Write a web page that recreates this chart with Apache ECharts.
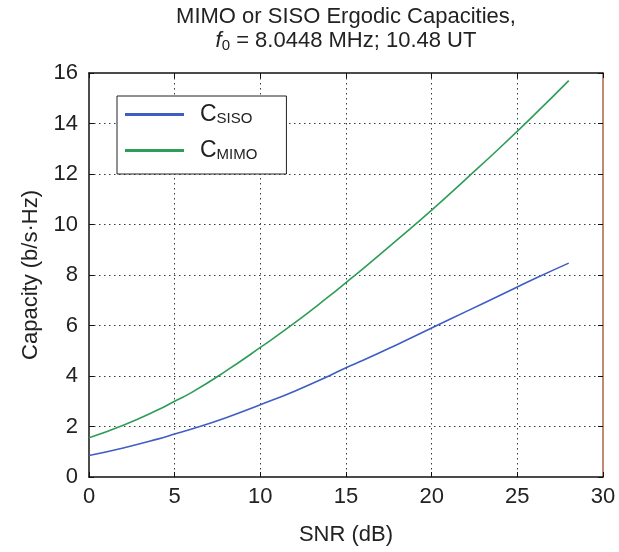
<!DOCTYPE html>
<html>
<head>
<meta charset="utf-8">
<script src="https://cdn.jsdelivr.net/npm/echarts@6/dist/echarts.min.js"></script>
<style>
  html, body { margin: 0; padding: 0; background: #fff; }
  #app { width: 619px; height: 552px; }
</style>
</head>
<body>
<div id="app"></div>
<script>
const snr = [0, 2, 4, 5, 6, 8, 10, 12, 14, 15, 16, 18, 20, 22, 24, 26, 28];
const cSiso = [0.85, 1.15, 1.5, 1.7, 1.9, 2.35, 2.86, 3.4, 4.0, 4.33, 4.62, 5.25, 5.9, 6.55, 7.2, 7.85, 8.47];
const cMimo = [1.55, 2.05, 2.65, 3.0, 3.35, 4.2, 5.13, 6.1, 7.15, 7.7, 8.25, 9.4, 10.57, 11.8, 13.05, 14.35, 15.7];

const font = 'Liberation Sans, Arial, sans-serif';
const myChart = echarts.init(document.getElementById('app'));

const pairs = (ys) => snr.map((x, i) => [x, ys[i]]);

const option = {
  animation: false,
  backgroundColor: '#fff',
  textStyle: { fontFamily: font },
  title: {
    left: 346,
    top: 5,
    padding: 0,
    textAlign: 'center',
    text: 'MIMO or SISO Ergodic Capacities,\n{i|f}{s|0}{n| = 8.0448 MHz; 10.48 UT}',
    textStyle: {
      fontFamily: font,
      fontSize: 22,
      fontWeight: 'normal',
      color: '#222',
      lineHeight: 24,
      rich: {
        i: { fontFamily: font, fontSize: 22, fontStyle: 'italic', color: '#222', lineHeight: 24 },
        s: { fontFamily: font, fontSize: 15, color: '#222', lineHeight: 24, padding: [10, 0, 0, 0] },
        n: { fontFamily: font, fontSize: 22, color: '#222', lineHeight: 24 }
      }
    }
  },
  legend: {
    orient: 'vertical',
    left: 117,
    top: 96,
    padding: [7, 29, 12, 8],
    itemGap: 13,
    itemWidth: 59,
    itemHeight: 3,
    icon: 'rect',
    borderColor: '#222',
    borderWidth: 1,
    backgroundColor: '#fff',
    data: ['SISO', 'MIMO'],
    formatter: name => `{c|C}{s|${name}}`,
    textStyle: {
      rich: {
        c: { fontFamily: font, fontSize: 23, color: '#222', lineHeight: 24, padding: [0, 0, 0, 11] },
        s: { fontFamily: font, fontSize: 15, color: '#222', lineHeight: 24, padding: [8, 0, 0, 0] }
      }
    }
  },
  grid: { left: 89, right: 16, top: 73, bottom: 75 },
  xAxis: [
    {
      type: 'value',
      min: 0,
      max: 30,
      interval: 5,
      name: 'SNR (dB)',
      nameLocation: 'middle',
      nameGap: 47,
      nameTextStyle: { fontFamily: font, fontSize: 22, color: '#222' },
      axisLine: { show: true, onZero: false, lineStyle: { color: '#111', width: 1.5 } },
      axisTick: { show: true, inside: true, length: 5, lineStyle: { color: '#111' } },
      axisLabel: { fontFamily: font, fontSize: 22, color: '#222', margin: 9 },
      splitLine: { show: true, showMinLine: false, showMaxLine: false, lineStyle: { color: '#2f3f48', type: [1.5, 3.5], width: 1 } }
    },
    {
      type: 'value',
      position: 'top',
      min: 0,
      max: 30,
      interval: 5,
      axisLine: { show: true, onZero: false, lineStyle: { color: '#111', width: 1.5 } },
      axisTick: { show: true, inside: true, length: 5, lineStyle: { color: '#111' } },
      axisLabel: { show: false },
      splitLine: { show: false }
    }
  ],
  yAxis: [
    {
      type: 'value',
      min: 0,
      max: 16,
      interval: 2,
      name: 'Capacity (b/s\u00b7Hz)',
      nameLocation: 'middle',
      nameGap: 47,
      nameTextStyle: { fontFamily: font, fontSize: 22, color: '#222' },
      axisLine: { show: true, onZero: false, lineStyle: { color: '#111', width: 1.5 } },
      axisTick: { show: true, inside: true, length: 5, lineStyle: { color: '#111' } },
      axisLabel: { fontFamily: font, fontSize: 22, color: '#222', margin: 11 },
      splitLine: { show: true, showMinLine: false, showMaxLine: false, lineStyle: { color: '#2f3f48', type: [1.5, 3.5], width: 1 } }
    },
    {
      type: 'value',
      position: 'right',
      min: 0,
      max: 16,
      interval: 2,
      axisLine: { show: true, onZero: false, lineStyle: { color: '#a8654a', width: 1.5 } },
      axisTick: { show: true, inside: true, length: 5, lineStyle: { color: '#111' } },
      axisLabel: { show: false },
      splitLine: { show: false }
    }
  ],
  series: [
    {
      name: 'SISO',
      type: 'line',
      smooth: true,
      symbol: 'none',
      data: pairs(cSiso),
      itemStyle: { color: '#3f5ec4' },
      lineStyle: { color: '#3f5ec4', width: 1.6 }
    },
    {
      name: 'MIMO',
      type: 'line',
      smooth: true,
      symbol: 'none',
      data: pairs(cMimo),
      itemStyle: { color: '#2f9c58' },
      lineStyle: { color: '#2f9c58', width: 1.6 }
    }
  ]
};

myChart.setOption(option);
</script>
</body>
</html>
